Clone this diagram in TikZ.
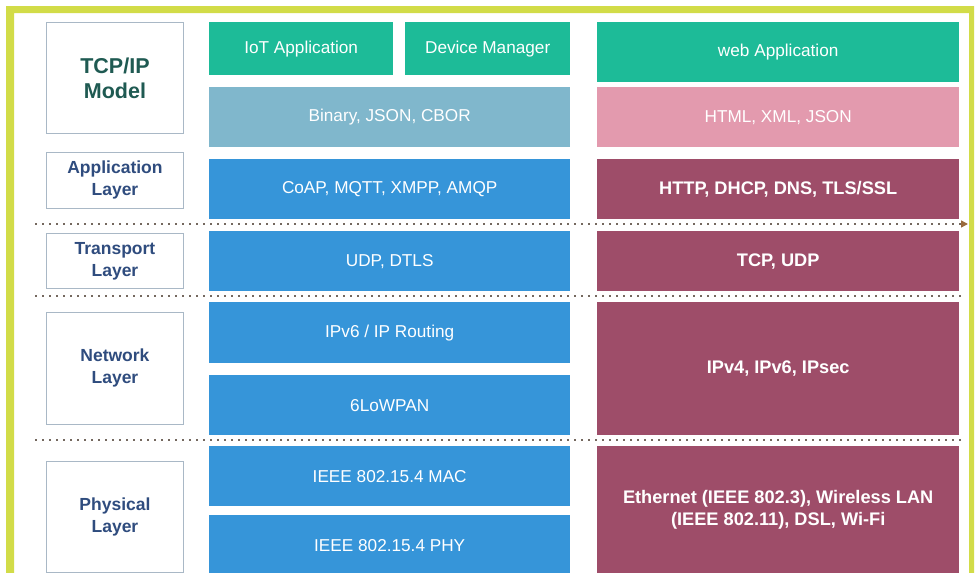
\documentclass[tikz,border=0pt]{standalone}
\usepackage{fontspec}
\setmainfont{Liberation Sans}
\usepackage{xcolor}
\usepackage{tikz}
\usetikzlibrary{positioning,arrows.meta}

\definecolor{framegreen}{HTML}{D2DC48}
\definecolor{iotgreen}{HTML}{1DBB98}
\definecolor{paleblue}{HTML}{80B7CC}
\definecolor{midblue}{HTML}{3695D9}
\definecolor{softpink}{HTML}{E39AAE}
\definecolor{plum}{HTML}{9E4D69}
\definecolor{lblborder}{HTML}{A9B8C6}
\definecolor{lbltext}{HTML}{2F4C7E}
\definecolor{modeltext}{HTML}{1F5A52}
\definecolor{dotgray}{HTML}{74685F}
\definecolor{tipbrown}{HTML}{9A6A3C}

\begin{document}
\begin{tikzpicture}[x=1pt, y=-1pt,
    blk/.style={rectangle, inner sep=0pt, anchor=north west, align=center,
        text=white, font=\fontsize{17.2}{21}\selectfont},
    sz/.style 2 args={minimum width=#1pt, minimum height=#2pt},
    lbl/.style={blk, draw=lblborder, line width=0.9pt, fill=white, text=lbltext,
        font=\fontsize{17.5}{22}\selectfont\bfseries},
    boldblk/.style={blk, font=\fontsize{18.2}{22}\selectfont\bfseries},
    sep/.style={dotgray, line width=1.5pt, dash pattern=on 1.5pt off 5.5pt}]
    \useasboundingbox (0,0) rectangle (975,573);
    \fill[white] (0,0) rectangle (975,573);
    % Frame (open at the bottom)
    \fill[framegreen] (6,573) -- (6,6) -- (974,6) -- (974,573) -- (969,573)
        -- (969,13) -- (14,13) -- (14,573) -- cycle;
    % Layer labels
    \node[lbl, sz={137}{111}, text=modeltext, font=\fontsize{21.5}{25}\selectfont\bfseries]
        (model) at (46,22) {TCP/IP\\Model};
    \node[lbl, sz={137}{56}] (applbl) at (46,152) {Application\\Layer};
    \node[lbl, sz={137}{55}] (translbl) at (46,233) {Transport\\Layer};
    \node[lbl, sz={137}{112}] (netlbl) at (46,312) {Network\\Layer};
    \node[lbl, sz={137}{111}] (physlbl) at (46,461) {Physical\\Layer};
    % IoT stack
    \node[blk, sz={184}{53}, fill=iotgreen] (iotapp) at (209,22) {IoT Application};
    \node[blk, sz={165}{53}, fill=iotgreen] (devmgr) at (405,22) {Device Manager};
    \node[blk, sz={361}{60}, fill=paleblue] (binary) at (209,87) {Binary, JSON, CBOR};
    \node[blk, sz={361}{60}, fill=midblue] (coap) at (209,159) {CoAP, MQTT, XMPP, AMQP};
    \node[blk, sz={361}{60}, fill=midblue] (udp) at (209,231) {UDP, DTLS};
    \node[blk, sz={361}{61}, fill=midblue] (ipv6) at (209,302) {IPv6 / IP Routing};
    \node[blk, sz={361}{60}, fill=midblue] (lowpan) at (209,375) {6LoWPAN};
    \node[blk, sz={361}{60}, fill=midblue] (mac) at (209,446) {IEEE 802.15.4 MAC};
    \node[blk, sz={361}{60}, fill=midblue] (phy) at (209,515) {IEEE 802.15.4 PHY};
    % Web stack
    \node[blk, sz={362}{60}, fill=iotgreen] (webapp) at (597,22) {web Application};
    \node[blk, sz={362}{60}, fill=softpink] (html) at (597,87) {HTML, XML, JSON};
    \node[boldblk, sz={362}{60}, fill=plum] (http) at (597,159) {HTTP, DHCP, DNS, TLS/SSL};
    \node[boldblk, sz={362}{60}, fill=plum] (tcpudp) at (597,231) {TCP, UDP};
    \node[boldblk, sz={362}{133}, fill=plum] (ipv4) at (597,302) {IPv4, IPv6, IPsec};
    \node[boldblk, sz={362}{127}, fill=plum] (ether) at (597,446)
        {Ethernet (IEEE 802.3), Wireless LAN\\(IEEE 802.11), DSL, Wi-Fi};
    % Separators
    \coordinate (s1a) at (35,224);  \coordinate (s1b) at (968,224);
    \coordinate (s2a) at (35,296);  \coordinate (s2b) at (966,296);
    \coordinate (s3a) at (35,440);  \coordinate (s3b) at (966,440);
    \draw[sep, -{Triangle[length=7pt, width=7pt, color=tipbrown]}] (s1a) -- (s1b);
    \draw[sep] (s2a) -- (s2b);
    \draw[sep] (s3a) -- (s3b);
\end{tikzpicture}
\end{document}
